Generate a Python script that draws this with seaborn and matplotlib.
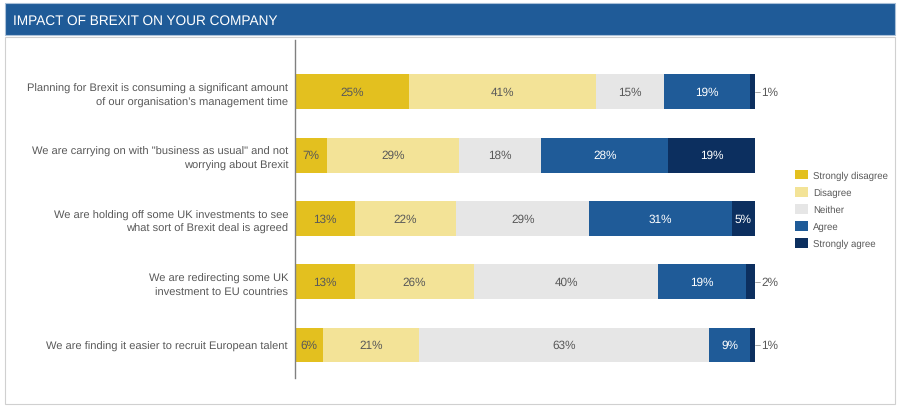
import matplotlib
matplotlib.use("Agg")
import matplotlib.pyplot as plt
from matplotlib.patches import Rectangle
import seaborn as sns
import pandas as pd
import numpy as np

statements = [
    "Planning for Brexit is consuming a significant amount\nof our organisation\u2019s management time",
    "We are carrying on with \"business as usual\" and not\nworrying about Brexit",
    "We are holding off some UK investments to see\nwhat sort of Brexit deal is agreed",
    "We are redirecting some UK\ninvestment to EU countries",
    "We are finding it easier to recruit European talent",
]
responses = ["Strongly disagree", "Disagree", "Neither", "Agree", "Strongly agree"]
strongly_disagree = [25, 7, 13, 13, 6]
disagree = [41, 29, 22, 26, 21]
neither = [15, 18, 29, 40, 63]
agree = [19, 28, 31, 19, 9]
strongly_agree = [1, 19, 5, 2, 1]

colors = ["#e3c01f", "#f3e397", "#e6e6e6", "#1f5b98", "#0c2f5f"]
text_dark = "#595959"

sns.set_theme(style="white")
plt.rcParams["font.family"] = ["Liberation Sans", "DejaVu Sans"]
plt.rcParams["text.hinting"] = "no_hinting"

fig = plt.figure(figsize=(9, 4.1), dpi=100)
fig.patch.set_facecolor("white")
W, H = 900, 410

def fr(x0, y0, x1, y1):
    return (x0 / W, 1 - y1 / H, (x1 - x0) / W, (y1 - y0) / H)

# title bar
x, y, w, h = fr(5, 4, 895, 36)
fig.patches.append(Rectangle((x, y), w, h, transform=fig.transFigure,
                             facecolor="#1f5b98", edgecolor="#aac0d8", lw=0.8, zorder=-5))
fig.text(13 / W, 1 - 21 / H, "IMPACT OF BREXIT ON YOUR COMPANY", color="white",
         fontsize=9.8, va="center", ha="left")
# panel
x, y, w, h = fr(5, 38, 895, 405)
fig.patches.append(Rectangle((x, y), w, h, transform=fig.transFigure,
                             facecolor="white", edgecolor="#d0d0d0", lw=0.8, zorder=-5))

ax = fig.add_axes(fr(295, 41, 755, 379))
ax.set_facecolor("none")
ax.set_zorder(2)

df = pd.DataFrame({
    "statement": statements,
    "Strongly disagree": strongly_disagree,
    "Disagree": disagree,
    "Neither": neither,
    "Agree": agree,
    "Strongly agree": strongly_agree,
})
vals = df[responses].to_numpy(dtype=float)
totals = vals.sum(axis=1, keepdims=True)
pct = vals / totals * 100
cum = np.cumsum(pct, axis=1)

# draw cumulative bars, largest first so that shorter ones overlay
for j in range(len(responses) - 1, -1, -1):
    sns.barplot(x=cum[:, j], y=statements, orient="h", color=colors[j],
                width=0.55, saturation=1, ax=ax, linewidth=0, label=responses[j])

# value labels
for i in range(len(statements)):
    for j in range(len(responses)):
        v = vals[i, j]
        start = cum[i, j] - pct[i, j]
        center = start + pct[i, j] / 2
        label = f"{int(v)}%"
        if v <= 2:
            end = cum[i, j]
            ax.plot([end, end + 1.0], [i, i], color="#999999", lw=0.6, clip_on=False)
            ax.text(end + 1.3, i, label, ha="left", va="center", fontsize=8.5, color=text_dark)
        else:
            col = "white" if j >= 3 else text_dark
            ax.text(center, i, label, ha="center", va="center", fontsize=8.5, color=col)

ax.set_xlim(0, 100)
ax.set_ylim(4.52, -0.82)
ax.set_xlabel("")
ax.set_ylabel("")
ax.set_xticks([])
for s in ["top", "right", "bottom"]:
    ax.spines[s].set_visible(False)
ax.spines["left"].set_color("#808080")
ax.spines["left"].set_linewidth(1.0)
ax.tick_params(axis="y", length=0, pad=5, labelsize=8, labelcolor=text_dark)
for t in ax.get_yticklabels():
    t.set_multialignment("right")
    t.set_linespacing(1.45)

# legend
handles, labels = ax.get_legend_handles_labels()
order = [labels.index(r) for r in responses]
if ax.get_legend():
    ax.get_legend().remove()
leg = fig.legend([handles[k] for k in order], [labels[k] for k in order],
                 loc="upper left", bbox_to_anchor=(786 / W, 1 - 162 / H),
                 frameon=False, fontsize=6.9, labelcolor=text_dark,
                 handlelength=1.4, handleheight=1.2, handletextpad=0.55, labelspacing=0.72)

fig.savefig("out.png", dpi=100, facecolor="white")
